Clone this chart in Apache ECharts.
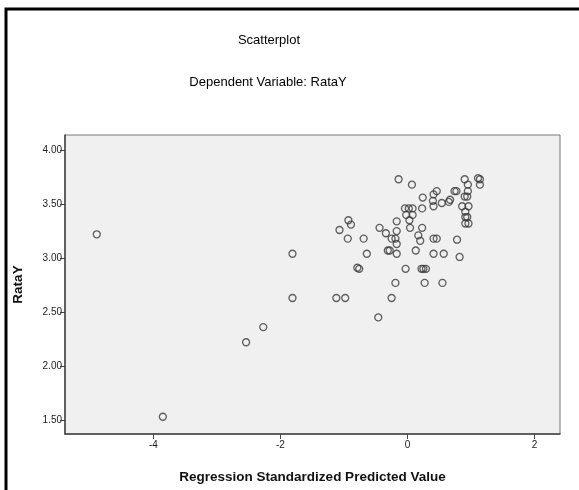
<!DOCTYPE html>
<html>
<head>
<meta charset="utf-8">
<script src="https://cdn.jsdelivr.net/npm/echarts@6/dist/echarts.min.js"></script>
<style>
  html, body { margin: 0; padding: 0; background: #fff; }
  #chart { width: 579px; height: 490px; }
</style>
</head>
<body>
<div id="chart"></div>
<script>
// predicted values (x) and RataY (y)
const predicted = [
  -4.89, -3.85, -2.54, -2.27, -1.81, -1.81, -1.12, -0.98, -1.07, -0.93,
  -0.89, -0.94, -0.69, -0.64, -0.79, -0.76, -0.46, -0.44, -0.34, -0.31,
  -0.28, -0.25, -0.19, -0.17, -0.17, -0.17, -0.17, -0.14, -0.19, -0.25,
  -0.04, 0.02, 0.08, -0.02, 0.08, 0.03, 0.04, 0.07, -0.03, 0.17,
  0.20, 0.13, 0.23, 0.23, 0.24, 0.22, 0.25, 0.29, 0.27, 0.41,
  0.46, 0.40, 0.41, 0.54, 0.65, 0.67, 0.74, 0.77, 0.41, 0.46,
  0.78, 0.41, 0.57, 0.82, 0.55, 0.90, 1.11, 1.14, 1.14, 0.95,
  0.95, 0.90, 0.94, 0.86, 0.96, 0.91, 0.91, 0.94, 0.91, 0.96
];
const rataY = [
  3.22, 1.53, 2.22, 2.36, 2.63, 3.04, 2.63, 2.63, 3.26, 3.35,
  3.31, 3.18, 3.18, 3.04, 2.91, 2.90, 2.45, 3.28, 3.23, 3.07,
  3.07, 3.18, 3.18, 3.13, 3.04, 3.34, 3.25, 3.73, 2.77, 2.63,
  3.46, 3.46, 3.46, 3.40, 3.40, 3.35, 3.28, 3.68, 2.90, 3.21,
  3.16, 3.07, 3.46, 3.28, 3.56, 2.90, 2.90, 2.90, 2.77, 3.59,
  3.62, 3.53, 3.48, 3.51, 3.52, 3.54, 3.62, 3.62, 3.18, 3.18,
  3.17, 3.04, 3.04, 3.01, 2.77, 3.73, 3.74, 3.73, 3.68, 3.68,
  3.62, 3.57, 3.57, 3.48, 3.48, 3.43, 3.38, 3.38, 3.32, 3.32
];
const xTicks = [-4, -2, 0, 2];
const yTicks = [1.5, 2.0, 2.5, 3.0, 3.5, 4.0];

const chart = echarts.init(document.getElementById('chart'));
const font = 'Liberation Sans, Arial, sans-serif';

chart.setOption({
  animation: false,
  graphic: [
    {
      type: 'rect',
      shape: { x: 6, y: 9, width: 620, height: 520 },
      style: { fill: 'none', stroke: '#000', lineWidth: 3 },
      z: 100
    },
    {
      type: 'text',
      x: 269, y: 40,
      style: {
        text: 'Scatterplot', fontFamily: font, fontSize: 13,
        fill: '#000', align: 'center', verticalAlign: 'middle'
      }
    },
    {
      type: 'text',
      x: 268, y: 82,
      style: {
        text: 'Dependent Variable: RataY', fontFamily: font, fontSize: 13,
        fill: '#000', align: 'center', verticalAlign: 'middle'
      }
    }
  ],
  grid: {
    left: 65, top: 135, right: 19, bottom: 56,
    show: true,
    backgroundColor: '#f0f0f0',
    borderColor: '#777',
    borderWidth: 1
  },
  xAxis: {
    type: 'value',
    min: -5.39,
    max: 2.40,
    name: 'Regression Standardized Predicted Value',
    nameLocation: 'middle',
    nameGap: 36,
    nameTextStyle: { fontFamily: font, fontSize: 13.5, fontWeight: 'bold', color: '#111' },
    axisLine: { onZero: false, lineStyle: { color: '#444', width: 1.5 } },
    axisTick: { customValues: xTicks, length: 5, lineStyle: { color: '#444' } },
    axisLabel: { customValues: xTicks, margin: 6, fontFamily: font, fontSize: 10, color: '#222' },
    splitLine: { show: false }
  },
  yAxis: {
    type: 'value',
    min: 1.37,
    max: 4.14,
    name: 'RataY',
    nameLocation: 'middle',
    nameGap: 40,
    nameTextStyle: { fontFamily: font, fontSize: 13.5, fontWeight: 'bold', color: '#111' },
    axisLine: { show: true, onZero: false, lineStyle: { color: '#444', width: 1.5 } },
    axisTick: { show: true, customValues: yTicks, length: 5, lineStyle: { color: '#444' } },
    axisLabel: {
      customValues: yTicks, margin: 3, fontFamily: font, fontSize: 10, color: '#222',
      formatter: v => v.toFixed(2)
    },
    splitLine: { show: false }
  },
  series: [
    {
      type: 'scatter',
      symbol: 'circle',
      symbolSize: 7,
      data: predicted.map((x, i) => [x, rataY[i]]),
      itemStyle: { color: 'rgba(0,0,0,0)', borderColor: '#3a3a3a', borderWidth: 1.3 }
    }
  ]
});
</script>
</body>
</html>
